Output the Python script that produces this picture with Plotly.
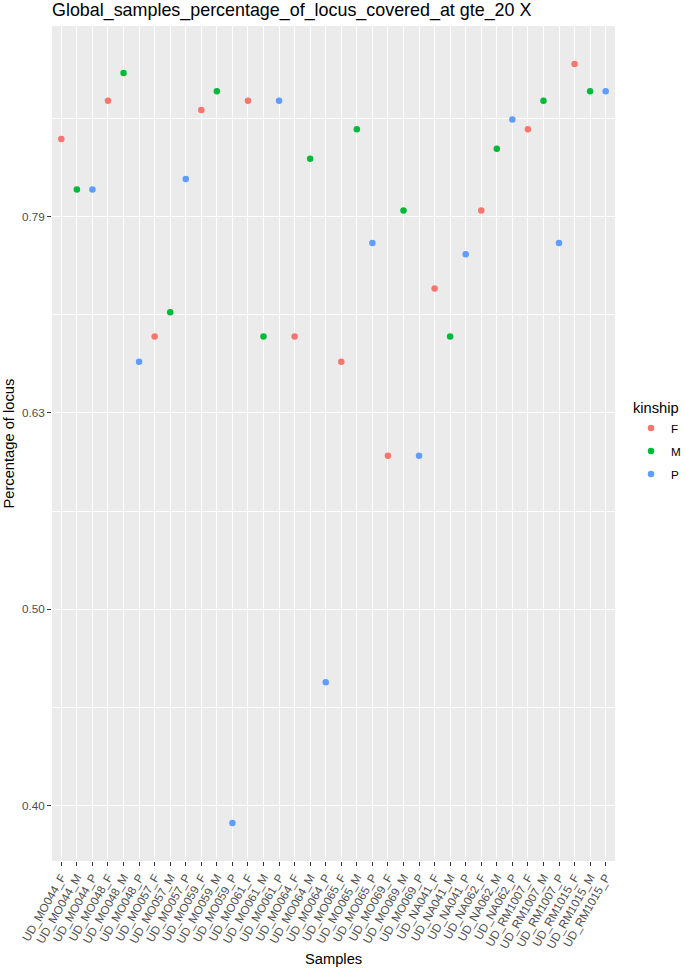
import math
import plotly.graph_objects as go

families = ["MO044", "MO048", "MO057", "MO059", "MO061", "MO064", "MO065",
            "MO069", "NA041", "NA062", "RM1007", "RM1015"]
kin_levels = ["F", "M", "P"]
samples = [f"UD_{f}_{k}" for f in families for k in kin_levels]

values = [0.87, 0.82, 0.82,
          0.91, 0.94, 0.67,
          0.69, 0.71, 0.83,
          0.90, 0.92, 0.39,
          0.91, 0.69, 0.91,
          0.69, 0.85, 0.46,
          0.67, 0.88, 0.77,
          0.60, 0.80, 0.60,
          0.73, 0.69, 0.76,
          0.80, 0.86, 0.89,
          0.88, 0.91, 0.77,
          0.95, 0.92, 0.92]
kinship = [s.split("_")[-1] for s in samples]

colors = {"F": "#F8766D", "M": "#00BA38", "P": "#619CFF"}

y_tick_vals = [10 ** -0.4, 10 ** -0.3, 10 ** -0.2, 10 ** -0.1]
y_tick_text = ["0.40", "0.50", "0.63", "0.79"]
y_minor_vals = [10 ** -0.35, 10 ** -0.25, 10 ** -0.15, 10 ** -0.05]

FONT = "Liberation Sans, Arial, Helvetica, sans-serif"
W, H = 685, 968
L, R, T, B = 52, 70, 26, 107
PW, PH = W - L - R, H - T - B

fig = go.Figure()
for k in kin_levels:
    xs = [s for s, kk in zip(samples, kinship) if kk == k]
    ys = [v for v, kk in zip(values, kinship) if kk == k]
    fig.add_trace(go.Scatter(
        x=xs, y=ys, mode="markers", name=k, legendgroup=k,
        marker=dict(color=colors[k], size=6.5, line=dict(width=0)),
    ))

lo = math.log10(min(values))
hi = math.log10(max(values))
pad = (hi - lo) * 0.05

fig.update_layout(
    width=W, height=H,
    margin=dict(l=L, r=R, t=T, b=B, autoexpand=False),
    paper_bgcolor="white",
    plot_bgcolor="#EBEBEB",
    font=dict(family=FONT, color="black"),
    title=dict(text="Global_samples_percentage_of_locus_covered_at gte_20 X",
               x=L / W, xanchor="left", xref="container",
               y=1 - 10 / H, yanchor="middle", yref="container",
               font=dict(size=17.9, color="black")),
    legend=dict(title=dict(text="kinship", font=dict(size=14.7)),
                font=dict(size=11.7), x=(631 - L) / PW, xanchor="left",
                y=0.502, yanchor="middle", tracegroupgap=4),
    showlegend=True,
    annotations=[
        dict(text="Samples", xref="paper", yref="paper",
             x=0.5, y=-(959 - (H - B)) / PH,
             xanchor="center", yanchor="middle", showarrow=False,
             font=dict(size=14.7, color="black")),
        dict(text="Percentage of locus", xref="paper", yref="paper",
             x=-(L - 8) / PW, y=0.5, textangle=-90,
             xanchor="center", yanchor="middle", showarrow=False,
             font=dict(size=14.7, color="black")),
    ],
)

fig.update_xaxes(
    type="category",
    categoryorder="array", categoryarray=samples,
    range=[-0.6, len(samples) - 1 + 0.6],
    tickangle=-60, automargin=False,
    tickfont=dict(size=11.7, color="#4D4D4D"),
    ticks="outside", ticklen=4, tickcolor="#333333", tickwidth=1,
    showgrid=True, gridcolor="white", gridwidth=1.1,
    zeroline=False, showline=False,
)

fig.update_yaxes(
    type="log", automargin=False,
    range=[lo - pad, hi + pad],
    tickmode="array", tickvals=y_tick_vals, ticktext=y_tick_text,
    tickfont=dict(size=11.7, color="#4D4D4D"),
    ticks="outside", ticklen=4, tickcolor="#333333", tickwidth=1,
    showgrid=True, gridcolor="white", gridwidth=1.1,
    minor=dict(tickmode="array", tickvals=y_minor_vals, showgrid=True,
               gridcolor="white", gridwidth=0.55, ticks=""),
    zeroline=False, showline=False,
)

fig.write_html("out.html",
               config={"displayModeBar": False},
               post_script="document.body.style.margin='0';")
